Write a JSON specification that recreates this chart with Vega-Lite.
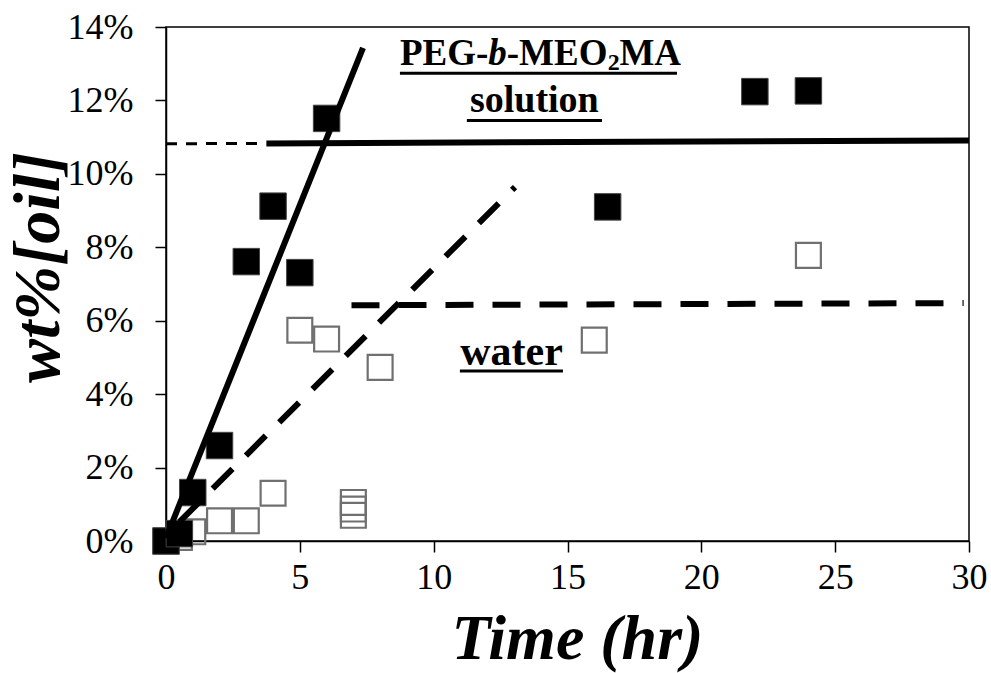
{
  "$schema": "https://vega.github.io/schema/vega-lite/v6.json",
  "width": 803,
  "height": 514,
  "autosize": "none",
  "padding": {"left": 166, "top": 27, "right": 22, "bottom": 132},
  "background": "white",
  "config": {
    "view": {"stroke": "black", "strokeWidth": 1.5},
    "font": "Liberation Serif"
  },
  "datasets": {
    "points": [
      {"series": "water", "time": 0, "wt": 0},
      {"series": "water", "time": 0.5, "wt": 0.1},
      {"series": "water", "time": 1, "wt": 0.25},
      {"series": "water", "time": 2, "wt": 0.55},
      {"series": "water", "time": 3, "wt": 0.55},
      {"series": "water", "time": 4, "wt": 1.3},
      {"series": "water", "time": 5, "wt": 5.74},
      {"series": "water", "time": 6, "wt": 5.5},
      {"series": "water", "time": 7, "wt": 0.7},
      {"series": "water", "time": 7, "wt": 0.87},
      {"series": "water", "time": 7, "wt": 1.05},
      {"series": "water", "time": 8, "wt": 4.73},
      {"series": "water", "time": 16, "wt": 5.47},
      {"series": "water", "time": 24, "wt": 7.78},
      {"series": "solution", "time": 0, "wt": 0},
      {"series": "solution", "time": 0.5, "wt": 0.2},
      {"series": "solution", "time": 1, "wt": 1.32},
      {"series": "solution", "time": 2, "wt": 2.6},
      {"series": "solution", "time": 3, "wt": 7.61},
      {"series": "solution", "time": 4, "wt": 9.12},
      {"series": "solution", "time": 5, "wt": 7.31},
      {"series": "solution", "time": 6, "wt": 11.51},
      {"series": "solution", "time": 16.5, "wt": 9.1},
      {"series": "solution", "time": 22, "wt": 12.24},
      {"series": "solution", "time": 24, "wt": 12.26}
    ],
    "solidLines": [
      {"seg": "fit", "time": 0, "wt": 0.08},
      {"seg": "fit", "time": 7.36, "wt": 13.43},
      {"seg": "plateau", "time": 3.75, "wt": 10.83},
      {"seg": "plateau", "time": 30, "wt": 10.91}
    ],
    "thinDashed": [
      {"seg": "ext", "time": 0, "wt": 10.82},
      {"seg": "ext", "time": 3.4, "wt": 10.83}
    ],
    "thickDashed": [
      {"seg": "fit", "time": 0.5, "wt": 0.52},
      {"seg": "fit", "time": 13.04, "wt": 9.64},
      {"seg": "plateau", "time": 6.93, "wt": 6.42},
      {"seg": "plateau", "time": 29.8, "wt": 6.48}
    ],
    "boldText": [
      {"t": "PEG-", "time": 8.74, "wt": 12.97},
      {"t": "-MEO", "time": 12.73, "wt": 12.97},
      {"t": "MA", "time": 16.94, "wt": 12.97}
    ],
    "italicText": [
      {"t": "b", "time": 12.04, "wt": 12.97}
    ],
    "subText": [
      {"t": "2", "time": 16.5, "wt": 12.83}
    ],
    "centerText": [
      {"t": "solution", "time": 13.76, "wt": 11.69}
    ],
    "waterText": [
      {"t": "water", "time": 12.91, "wt": 4.79}
    ],
    "underlines": [
      {"label": "PEG", "time": 8.74, "time2": 19.09, "wt": 12.74},
      {"label": "solution", "time": 11.24, "time2": 16.29, "wt": 11.45},
      {"label": "water", "time": 10.98, "time2": 14.83, "wt": 4.63}
    ]
  },
  "encoding": {
    "x": {
      "field": "time",
      "type": "quantitative",
      "scale": {"domain": [0, 30], "nice": false, "zero": false},
      "axis": {
        "title": "Time (hr)",
        "values": [0, 5, 10, 15, 20, 25, 30],
        "grid": false,
        "labelFlush": false,
        "domainColor": "black",
        "domainWidth": 1.5,
        "tickColor": "black",
        "tickWidth": 1.5,
        "tickSize": 11,
        "labelFont": "Liberation Serif",
        "labelFontSize": 36,
        "labelColor": "black",
        "labelPadding": 8,
        "titleFont": "Liberation Serif",
        "titleFontSize": 64,
        "titleFontWeight": "bold",
        "titleFontStyle": "italic",
        "titleColor": "black",
        "titleX": 411,
        "titleY": 98,
        "titleBaseline": "middle",
        "titleAlign": "center"
      }
    },
    "y": {
      "field": "wt",
      "type": "quantitative",
      "scale": {"domain": [0, 14], "nice": false, "zero": false},
      "axis": {
        "title": "wt%[oil]",
        "values": [0, 2, 4, 6, 8, 10, 12, 14],
        "labelExpr": "datum.value + '%'",
        "grid": false,
        "labelFlush": false,
        "domainColor": "black",
        "domainWidth": 1.5,
        "tickColor": "black",
        "tickWidth": 1.5,
        "tickSize": 11,
        "labelFont": "Liberation Serif",
        "labelFontSize": 36,
        "labelColor": "black",
        "labelPadding": 22,
        "titleFont": "Liberation Serif",
        "titleFontSize": 66,
        "titleFontWeight": "bold",
        "titleFontStyle": "italic",
        "titleColor": "black",
        "titleAngle": -90,
        "titleX": -128,
        "titleY": 240,
        "titleBaseline": "middle",
        "titleAlign": "center"
      }
    }
  },
  "layer": [
    {
      "data": {"name": "points"},
      "transform": [{"filter": "datum.series == 'water'"}],
      "mark": {"type": "point", "shape": "square", "size": 620, "filled": false, "stroke": "#707070", "strokeWidth": 2.2, "opacity": 1}
    },
    {
      "data": {"name": "points"},
      "transform": [{"filter": "datum.series == 'solution'"}],
      "mark": {"type": "point", "shape": "square", "size": 700, "filled": true, "fill": "black", "stroke": "#444444", "strokeWidth": 1, "opacity": 1}
    },
    {
      "data": {"name": "solidLines"},
      "mark": {"type": "line", "color": "black", "strokeWidth": 6},
      "encoding": {"detail": {"field": "seg"}}
    },
    {
      "data": {"name": "thinDashed"},
      "mark": {"type": "line", "color": "black", "strokeWidth": 3, "strokeDash": [11, 9]},
      "encoding": {"detail": {"field": "seg"}}
    },
    {
      "data": {"name": "thickDashed"},
      "mark": {"type": "line", "color": "black", "strokeWidth": 6, "strokeDash": [28, 19]},
      "encoding": {"detail": {"field": "seg"}}
    },
    {
      "data": {"name": "boldText"},
      "mark": {"type": "text", "font": "Liberation Serif", "fontSize": 37, "fontWeight": "bold", "align": "left", "baseline": "alphabetic", "color": "black"},
      "encoding": {"text": {"field": "t"}}
    },
    {
      "data": {"name": "italicText"},
      "mark": {"type": "text", "font": "Liberation Serif", "fontSize": 37, "fontWeight": "bold", "fontStyle": "italic", "align": "left", "baseline": "alphabetic", "color": "black"},
      "encoding": {"text": {"field": "t"}}
    },
    {
      "data": {"name": "subText"},
      "mark": {"type": "text", "font": "Liberation Serif", "fontSize": 24, "fontWeight": "bold", "align": "left", "baseline": "alphabetic", "color": "black"},
      "encoding": {"text": {"field": "t"}}
    },
    {
      "data": {"name": "centerText"},
      "mark": {"type": "text", "font": "Liberation Serif", "fontSize": 38, "fontWeight": "bold", "align": "center", "baseline": "alphabetic", "color": "black"},
      "encoding": {"text": {"field": "t"}}
    },
    {
      "data": {"name": "waterText"},
      "mark": {"type": "text", "font": "Liberation Serif", "fontSize": 42, "fontWeight": "bold", "align": "center", "baseline": "alphabetic", "color": "black"},
      "encoding": {"text": {"field": "t"}}
    },
    {
      "data": {"name": "underlines"},
      "mark": {"type": "rule", "color": "black", "strokeWidth": 3},
      "encoding": {"x2": {"field": "time2"}}
    }
  ]
}
